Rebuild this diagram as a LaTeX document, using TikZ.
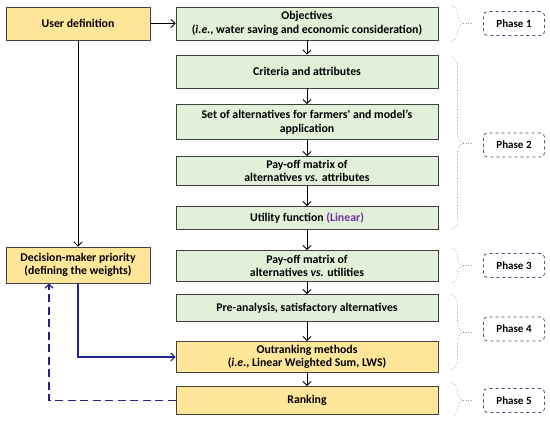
\documentclass[tikz,border=0pt]{standalone}
\usepackage{fontspec}
\setmainfont{Carlito}
\usetikzlibrary{arrows.meta,decorations.pathreplacing}
\definecolor{boxgreen}{HTML}{E2F0D9}
\definecolor{boxyellow}{HTML}{FFE699}
\definecolor{boxedge}{HTML}{404040}
\definecolor{linpurple}{HTML}{7030A0}
\definecolor{navy}{HTML}{22228C}
\definecolor{phaseedge}{HTML}{3B5878}
\definecolor{bracegray}{HTML}{8C8C8C}
\tikzset{
  base/.style={draw=boxedge, line width=0.9pt, align=center, font=\bfseries\fontsize{11.8}{13.5}\selectfont, inner sep=0pt},
  greenbox/.style={base, fill=boxgreen, minimum width=262pt},
  yellowmid/.style={base, fill=boxyellow, minimum width=262pt},
  leftbox/.style={base, fill=boxyellow, minimum width=144pt},
  phasebox/.style={draw=phaseedge, dashed, line width=0.8pt, rounded corners=4pt, fill=white,
     minimum width=61pt, minimum height=24pt, font=\bfseries\fontsize{11}{13}\selectfont, inner sep=0pt},
  arr/.style={-{Straight Barb[length=4pt,width=8pt]}, line width=0.9pt, black},
  bluearr/.style={-{Straight Barb[length=4pt,width=8pt]}, line width=1.1pt, navy},
  brc/.style={decorate, decoration={brace, amplitude=11pt}, draw=bracegray, dotted, line width=0.7pt},
  tick/.style={draw=bracegray, dotted, line width=0.7pt},
}
\begin{document}
\begin{tikzpicture}[x=1pt,y=-1pt]
\useasboundingbox (0,0) rectangle (550,424);
% central column
\node[greenbox, minimum height=33pt] (obj) at (307,23.5) {Objectives\\(\textit{i.e.}, water saving and economic consideration)};
\node[greenbox, minimum height=33pt] (crit) at (307,71.5) {Criteria and attributes};
\node[greenbox, minimum height=35pt] (alt) at (307,122) {Set of alternatives for farmers\textquotesingle{} and model’s\\application};
\node[greenbox, minimum height=29pt] (pay1) at (307,171) {Pay-off matrix of\\alternatives \textit{vs.} attributes};
\node[greenbox, minimum height=23pt] (util) at (307,218) {Utility function \textcolor{linpurple}{(Linear)}};
\node[greenbox, minimum height=31pt] (pay2) at (307,266) {Pay-off matrix of\\alternatives \textit{vs.} utilities};
\node[greenbox, minimum height=27pt] (pre) at (307,308) {Pre-analysis, satisfactory alternatives};
\node[yellowmid, minimum height=31pt] (out) at (307,357) {Outranking methods\\(\textit{i.e.}, Linear Weighted Sum, LWS)};
\node[yellowmid, minimum height=28pt] (rank) at (307,400.5) {Ranking};
% left column
\node[leftbox, minimum height=33pt] (user) at (78,23.5) {User definition};
\node[leftbox, minimum height=36pt] (dm) at (78,265) {Decision-maker priority\\(defining the weights)};
% arrows
\draw[arr] (user) -- (obj);
\draw[arr] (user) -- (dm);
\draw[arr] (obj) -- (crit);
\draw[arr] (crit) -- (alt);
\draw[arr] (alt) -- (pay1);
\draw[arr] (pay1) -- (util);
\draw[arr] (util) -- (pay2);
\draw[arr] (pay2) -- (pre);
\draw[arr] (pre) -- (out);
\draw[arr] (out) -- (rank);
\draw[bluearr] (dm.south) |- (out.west);
\coordinate (dmfb) at ([xshift=-29pt]dm.south);
\draw[bluearr, dashed, dash pattern=on 8pt off 4.5pt] (rank.west) -| (dmfb);
% phases
\node[phasebox] (p1) at (514,23.5) {Phase 1};
\node[phasebox] (p2) at (514,145) {Phase 2};
\node[phasebox] (p3) at (514,265.5) {Phase 3};
\node[phasebox] (p4) at (514,329) {Phase 4};
\node[phasebox] (p5) at (514,400.5) {Phase 5};
% braces
\coordinate (b1t) at (452,6); \coordinate (b1b) at (452,41);
\coordinate (b2t) at (452,57); \coordinate (b2b) at (452,229);
\coordinate (b3t) at (452,248); \coordinate (b3b) at (452,283);
\coordinate (b4t) at (452,295); \coordinate (b4b) at (452,369);
\coordinate (b5t) at (452,383); \coordinate (b5b) at (452,417);
\foreach \i in {1,...,5}{
  \draw[brc] (b\i t) -- (b\i b);
}
\coordinate (t1) at (463,23.5); \draw[tick] (t1) -- ([xshift=-10pt]p1.west);
\coordinate (t2) at (463,143); \draw[tick] (t2) -- ([xshift=-10pt]p2.west |- t2);
\coordinate (t3) at (463,265.5); \draw[tick] (t3) -- ([xshift=-10pt]p3.west);
\coordinate (t4) at (463,332); \draw[tick] (t4) -- ([xshift=-10pt]p4.west |- t4);
\coordinate (t5) at (463,400); \draw[tick] (t5) -- ([xshift=-10pt]p5.west |- t5);
\end{tikzpicture}
\end{document}
